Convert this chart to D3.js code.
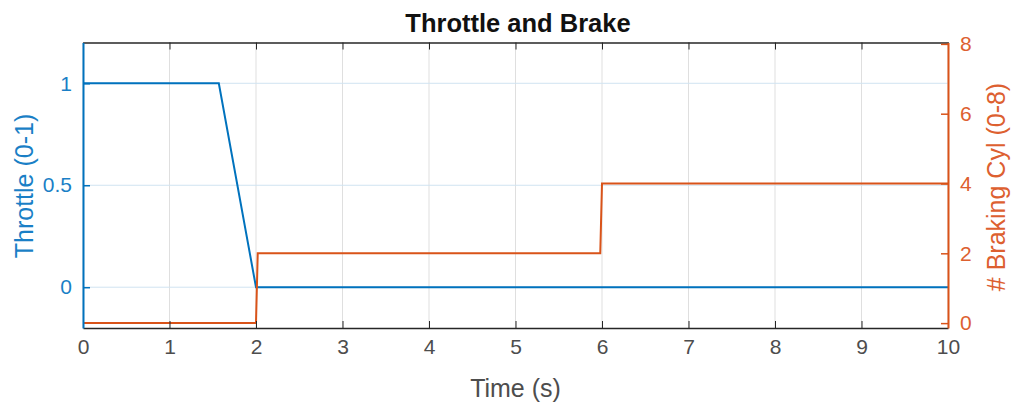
<!DOCTYPE html>
<html><head><meta charset="utf-8">
<script src="https://cdn.jsdelivr.net/npm/d3@7"></script>
<style>body{margin:0;background:#fff}svg{display:block}text{font-family:"Liberation Sans",Arial,sans-serif}</style>
</head><body><svg id="c" width="1013" height="410"></svg>
<script>
const timeThrottle = [0, 1.57, 2.0, 10];
const throttle = [1, 1, 0, 0];
const timeBrake = [0, 2.0, 2.02, 5.98, 6.0, 10];
const brakeCyl = [0, 0, 2, 2, 4, 4];
const xTicks = [0,1,2,3,4,5,6,7,8,9,10];
const leftTicks = [0, 0.5, 1];
const rightTicks = [0, 2, 4, 6, 8];
const title = "Throttle and Brake";
const xLabel = "Time (s)";
const leftLabel = "Throttle (0-1)";
const rightLabel = "# Braking Cyl (0-8)";

const BLUE = "#0072BD", ORANGE = "#D95319", DARK = "#262626";
const BLUE_T = "#1a7fc6", ORANGE_T = "#dd6030";
const L = 83, R = 948, T = 42.5, B = 328;
const svg = d3.select("#c");
const x = d3.scaleLinear().domain([0, 10]).range([L, R]);
const yL = d3.scaleLinear().domain([-0.2, 1.2]).range([B, T]);
const yR = d3.scaleLinear().domain([-0.14, 8.04]).range([B, T]);

// grid
svg.append("g").selectAll("line").data(xTicks).join("line")
  .attr("x1", d => x(d)).attr("x2", d => x(d)).attr("y1", T).attr("y2", B)
  .attr("stroke", "#dfdfdf").attr("stroke-width", 1);
svg.append("g").selectAll("line").data(leftTicks).join("line")
  .attr("x1", L).attr("x2", R).attr("y1", d => yL(d)).attr("y2", d => yL(d))
  .attr("stroke", "#d0e3f1").attr("stroke-width", 1);

// data lines
const lineT = d3.line().x(d => x(d[0])).y(d => yL(d[1]));
const lineB = d3.line().x(d => x(d[0])).y(d => yR(d[1]));
svg.append("path").datum(timeThrottle.map((t, i) => [t, throttle[i]]))
  .attr("d", lineT).attr("fill", "none").attr("stroke", BLUE).attr("stroke-width", 2);
svg.append("path").datum(timeBrake.map((t, i) => [t, brakeCyl[i]]))
  .attr("d", lineB).attr("fill", "none").attr("stroke", ORANGE).attr("stroke-width", 2);

// axes
const fs = 21;
const gx = svg.append("g").attr("transform", `translate(0,${B})`)
  .call(d3.axisBottom(x).tickValues(xTicks).tickFormat(d3.format("d")).tickSize(-7).tickPadding(26).tickSizeOuter(0));
gx.select(".domain").attr("stroke", DARK).attr("stroke-width", 1.3);
gx.selectAll(".tick line").attr("stroke", DARK);
gx.selectAll("text").attr("fill", "#4d4d4d").attr("font-size", fs).attr("dy", "0");
// top border
const gt = svg.append("g").attr("transform", `translate(0,${T})`)
  .call(d3.axisTop(x).tickValues(xTicks).tickFormat("").tickSize(-7).tickSizeOuter(0));
gt.select(".domain").attr("stroke", DARK).attr("stroke-width", 1.3);
gt.selectAll(".tick line").attr("stroke", DARK);

const gl = svg.append("g").attr("transform", `translate(${L},0)`)
  .call(d3.axisLeft(yL).tickValues(leftTicks).tickFormat(d => d === 0.5 ? "0.5" : d3.format("d")(d)).tickSize(-7).tickPadding(11).tickSizeOuter(0));
gl.select(".domain").attr("stroke", BLUE).attr("stroke-width", 2);
gl.selectAll(".tick line").attr("stroke", BLUE).attr("stroke-width", 1.5);
gl.selectAll("text").attr("fill", BLUE_T).attr("font-size", fs);

const gr = svg.append("g").attr("transform", `translate(${R},0)`)
  .call(d3.axisRight(yR).tickValues(rightTicks).tickFormat(d3.format("d")).tickSize(-7).tickPadding(12).tickSizeOuter(0));
gr.select(".domain").attr("stroke", ORANGE).attr("stroke-width", 2);
gr.selectAll(".tick line").attr("stroke", ORANGE).attr("stroke-width", 1.5);
gr.selectAll("text").attr("fill", ORANGE_T).attr("font-size", fs);

// labels
svg.append("text").attr("x", 518).attr("y", 31.5).attr("text-anchor", "middle")
  .attr("font-size", 25.5).attr("font-weight", "bold").attr("fill", "#111").text(title);
svg.append("text").attr("x", (L + R) / 2).attr("y", 396.5).attr("text-anchor", "middle")
  .attr("font-size", 25).attr("fill", "#4d4d4d").text(xLabel);
svg.append("text").attr("transform", `translate(33,186) rotate(-90)`).attr("text-anchor", "middle")
  .attr("font-size", 25).attr("fill", BLUE_T).text(leftLabel);
svg.append("text").attr("transform", `translate(1005,187) rotate(-90)`).attr("text-anchor", "middle")
  .attr("font-size", 25).attr("fill", ORANGE_T).text(rightLabel);
</script></body></html>
